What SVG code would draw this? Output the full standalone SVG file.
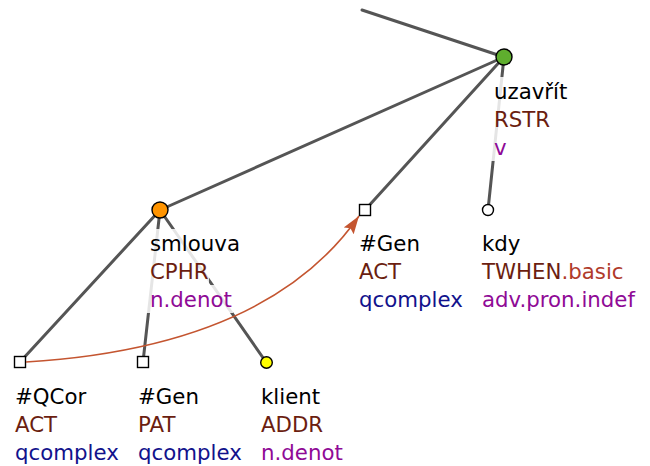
<svg xmlns="http://www.w3.org/2000/svg" width="650" height="466" viewBox="0 0 650 466">
<style>
.e{stroke:#555;stroke-width:3;fill:none;stroke-linecap:round}
.bg{fill:#fff;fill-opacity:0.85}
text{font-family:"DejaVu Sans",sans-serif;font-size:21.3px}
.l1{fill:#000}
.fn{fill:#6b1e10}
.bl{fill:#12128c}
.pu{fill:#8f0a96}
.ba{fill:#b03a2a}
.nd{stroke:#000;stroke-width:1.4}
</style>
<defs>
<marker id="ah" markerWidth="20" markerHeight="14" refX="18" refY="6" orient="auto" markerUnits="userSpaceOnUse">
<path d="M0,0 L18,6 L0,12 L3,6 Z" fill="#c45530"/>
</marker>
</defs>
<g id="edges">
<line class="e" x1="362" y1="10" x2="504" y2="57"/>
<line class="e" x1="504" y1="57" x2="160" y2="210"/>
<line class="e" x1="504" y1="57" x2="365" y2="210"/>
<line class="e" x1="504" y1="57" x2="488" y2="210"/>
<line class="e" x1="160" y1="210" x2="20" y2="362"/>
<line class="e" x1="160" y1="210" x2="143" y2="362"/>
<line class="e" x1="160" y1="210" x2="266" y2="362"/>
</g>
<g id="n-uzavrit">
<rect class="bg" x="491" y="77" width="77" height="28"/>
<rect class="bg" x="491" y="105" width="60" height="28"/>
<rect class="bg" x="491" y="133" width="17" height="28"/>
<circle class="nd" cx="504" cy="57" r="8" fill="#5fae2e"/>
<text x="494" y="99" class="l1">uzavřít</text>
<text x="494" y="127" class="fn">RSTR</text>
<text x="494" y="155" class="pu">v</text>
</g>
<g id="n-smlouva">
<rect class="bg" x="147" y="229" width="94" height="28"/>
<rect class="bg" x="147" y="257" width="62" height="28"/>
<rect class="bg" x="147" y="285" width="86" height="28"/>
<circle class="nd" cx="160" cy="210" r="8" fill="#ff9400"/>
<text x="150" y="251" class="l1">smlouva</text>
<text x="150" y="279" class="fn">CPHR</text>
<text x="150" y="307" class="pu">n.denot</text>
</g>
<g id="n-gen-act">
<rect class="nd" x="359.5" y="204.5" width="11" height="11" fill="#fff"/>
<text x="359" y="251" class="l1">#Gen</text>
<text x="359" y="279" class="fn">ACT</text>
<text x="359" y="307" class="bl">qcomplex</text>
</g>
<g id="n-kdy">
<circle class="nd" cx="488" cy="210" r="5.5" fill="#fff"/>
<text x="482" y="251" class="l1">kdy</text>
<text x="482" y="279"><tspan class="fn">TWHEN</tspan><tspan class="ba">.basic</tspan></text>
<text x="482" y="307" class="pu">adv.pron.indef</text>
</g>
<g id="n-qcor">
<rect class="nd" x="14.5" y="356.5" width="11" height="11" fill="#fff"/>
<text x="15" y="404" class="l1">#QCor</text>
<text x="15" y="432" class="fn">ACT</text>
<text x="15" y="460" class="bl">qcomplex</text>
</g>
<g id="n-gen-pat">
<rect class="nd" x="137.5" y="356.5" width="11" height="11" fill="#fff"/>
<text x="138" y="404" class="l1">#Gen</text>
<text x="138" y="432" class="fn">PAT</text>
<text x="138" y="460" class="bl">qcomplex</text>
</g>
<g id="n-klient">
<circle class="nd" cx="266.5" cy="362.5" r="5.8" fill="#ffff00"/>
<text x="261" y="404" class="l1">klient</text>
<text x="261" y="432" class="fn">ADDR</text>
<text x="261" y="460" class="pu">n.denot</text>
</g>
<g id="coref">
<path d="M26,362 Q268,347 359,216" fill="none" stroke="#c45530" stroke-width="1.6" marker-end="url(#ah)"/>
</g>
</svg>
